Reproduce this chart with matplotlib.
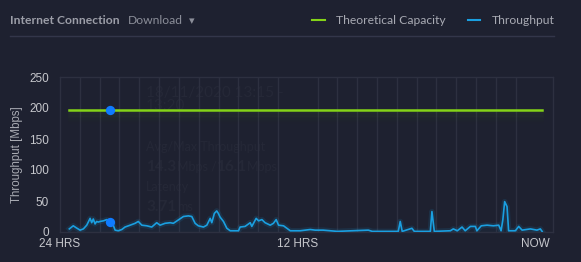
import matplotlib
matplotlib.use("Agg")
import matplotlib.pyplot as plt
import matplotlib.patheffects as pe
import numpy as np

# hours since "24 HRS" and measured throughput [Mbps]
hours = [0.47, 0.67, 0.81, 1.01, 1.18, 1.35, 1.52, 1.60, 1.68, 1.77, 1.85, 1.93,
         2.02, 2.19, 2.36, 2.53, 2.69, 2.78, 2.94, 3.12, 3.28, 3.54, 3.79, 3.95,
         4.13, 4.38, 4.63, 4.88, 5.05, 5.30, 5.56, 5.72, 6.23, 6.48, 6.65, 6.82,
         6.98, 7.24, 7.41, 7.58, 7.66, 7.79, 7.91, 7.99, 8.08, 8.25, 8.42, 8.59,
         9.01, 9.09, 9.34, 9.60, 9.68, 9.90, 10.02, 10.19, 10.35, 10.61, 10.77,
         10.91, 11.03, 11.28, 11.45, 11.62, 12.12, 12.63, 12.88, 13.28, 13.64,
         13.99, 14.75, 15.56, 15.76, 17.07, 17.17, 17.27, 17.76, 17.88, 18.69,
         18.77, 18.89, 19.70, 19.85, 20.05, 20.29, 20.45, 20.71, 20.96, 21.04,
         21.26, 21.55, 21.87, 22.14, 22.26, 22.35, 22.44, 22.56, 22.64, 22.98,
         23.15, 23.32, 23.74, 24.07, 24.24, 24.33]
throughput = [5, 10, 7, 3, 5, 11, 22, 15, 21, 13, 17, 16,
              17, 18, 20, 17, 11, 3, 2, 4, 8, 11, 14, 17,
              11, 10, 8, 15, 11, 14, 15, 14, 25, 26, 25, 14,
              10, 8, 11, 22, 15, 30, 34, 30, 24, 17, 6, 2,
              2, 8, 9, 15, 9, 22, 18, 20, 15, 11, 14,
              20, 11, 10, 6, 2, 2, 4, 3, 3, 2,
              1, 2, 3, 1, 1, 17, 1, 6, 1, 1,
              33, 1, 2, 5, 2, 8, 2, 9, 9, 2,
              10, 11, 10, 11, 2, 20, 49, 41, 2, 2,
              9, 3, 5, 3, 5, 1]
capacity = 196
hover_hour = 2.53
hover_values = [196, 16]

x_ticks = [0, 12, 24]
x_labels = ["24 HRS", "12 HRS", "NOW"]
y_ticks = [0, 50, 100, 150, 200, 250]

BG = "#1e2130"
GREEN = "#84d418"
BLUE = "#1a9fe0"
DOT = "#0f7bff"
GRID = "#2d3040"
FAINT = "#252837"

fig = plt.figure(figsize=(5.81, 2.62), dpi=100, facecolor=BG)
ax = fig.add_axes([60 / 581, 1 - 232 / 262, 493 / 581, 155 / 262])
ax.set_facecolor(BG)

# header
fig.text(10 / 581, 1 - 20 / 262, "Internet Connection", color="#9c9ea8",
         fontsize=8.7, fontweight="bold", family=["Lato", "DejaVu Sans"], va="center")
fig.text(128 / 581, 1 - 20 / 262, "Download", color="#8b8e99",
         fontsize=8.7, family=["Lato", "DejaVu Sans"], va="center")
fig.text(189 / 581, 1 - 21 / 262, "\u25BE", color="#8b8e99",
         fontsize=8, family=["DejaVu Sans"], va="center")
fig.add_artist(plt.Line2D([10 / 581, 554 / 581], [1 - 36 / 262] * 2,
                          color="#33364a", lw=1))

# legend
fig.add_artist(plt.Line2D([312 / 581, 325 / 581], [1 - 20 / 262] * 2, color=GREEN, lw=1.5))
fig.text(336 / 581, 1 - 20 / 262, "Theoretical Capacity", color="#a8aab3",
         fontsize=8.7, family=["Lato", "DejaVu Sans"], va="center")
fig.add_artist(plt.Line2D([468 / 581, 480 / 581], [1 - 20 / 262] * 2, color=BLUE, lw=1.5))
fig.text(492 / 581, 1 - 20 / 262, "Throughput", color="#a8aab3",
         fontsize=8.7, family=["Lato", "DejaVu Sans"], va="center")

# faint hover tooltip, drawn under the lines
tip = dict(color=FAINT, family=["Lato", "DejaVu Sans"], va="center",
           transform=fig.transFigure, zorder=1)
ax.text(146 / 581, 1 - 93 / 262, "18/11/2020 13:15 -", fontsize=11, **tip)
ax.text(146 / 581, 1 - 106 / 262, "13:20", fontsize=11, **tip)
ax.text(146 / 581, 1 - 147 / 262, "Avg/Max Throughput", fontsize=9, **tip)
ax.text(146 / 581, 1 - 167 / 262, "14.3", fontsize=11, fontweight="bold", **tip)
ax.text(177 / 581, 1 - 167 / 262, "Mbps /", fontsize=9, **tip)
ax.text(216 / 581, 1 - 167 / 262, "16.1", fontsize=11, fontweight="bold", **tip)
ax.text(247 / 581, 1 - 167 / 262, "Mbps", fontsize=9, **tip)
ax.text(146 / 581, 1 - 187 / 262, "Latency", fontsize=9, **tip)
ax.text(146 / 581, 1 - 207 / 262, "3.71", fontsize=11, fontweight="bold", **tip)
ax.text(177 / 581, 1 - 207 / 262, "ms", fontsize=9, **tip)

# capacity line with soft glow below
glow = [pe.SimpleLineShadow(offset=(0, -k), shadow_color=GREEN, alpha=0.035 * (1 - k / 9), rho=1)
        for k in range(1, 9)]
ax.plot([hours[0], hours[-1]], [capacity, capacity], color=GREEN, lw=1.8,
        path_effects=glow + [pe.Normal()], zorder=3)

# throughput line with glow
ax.plot(hours, throughput, color=BLUE, lw=1.2, zorder=4,
        path_effects=[pe.Stroke(linewidth=4, foreground=BLUE, alpha=0.12), pe.Normal()])
ax.fill_between(hours, throughput, 0, color=BLUE, alpha=0.04, lw=0, zorder=2)

ax.scatter([hover_hour] * 2, hover_values, s=45, color=DOT, zorder=5, lw=0)

ax.set_xlim(0, 24.88)
ax.set_ylim(0, 250)
ax.set_xticks(x_ticks)
ax.set_xticklabels(x_labels)
ax.set_xticks(np.arange(0, 25), minor=True)
ax.set_yticks(y_ticks)
ax.grid(True, axis="x", which="minor", color=GRID, lw=1)
ax.tick_params(axis="both", which="both", length=0)
ax.tick_params(axis="y", pad=8, labelsize=8.5, labelcolor="#c6c7cc")
ax.tick_params(axis="x", pad=4.5, labelsize=8.5, labelcolor="#c6c7cc")
for lab in ax.get_xticklabels() + ax.get_yticklabels():
    lab.set_family(["Liberation Sans", "DejaVu Sans"])
ax.set_ylabel("Throughput [Mbps]", color="#a9abb3", fontsize=8.3,
              family=["Liberation Sans", "DejaVu Sans"], labelpad=4)
for s in ax.spines.values():
    s.set_color(GRID)
    s.set_linewidth(1)

fig.savefig("out.png", dpi=100, facecolor=BG)
